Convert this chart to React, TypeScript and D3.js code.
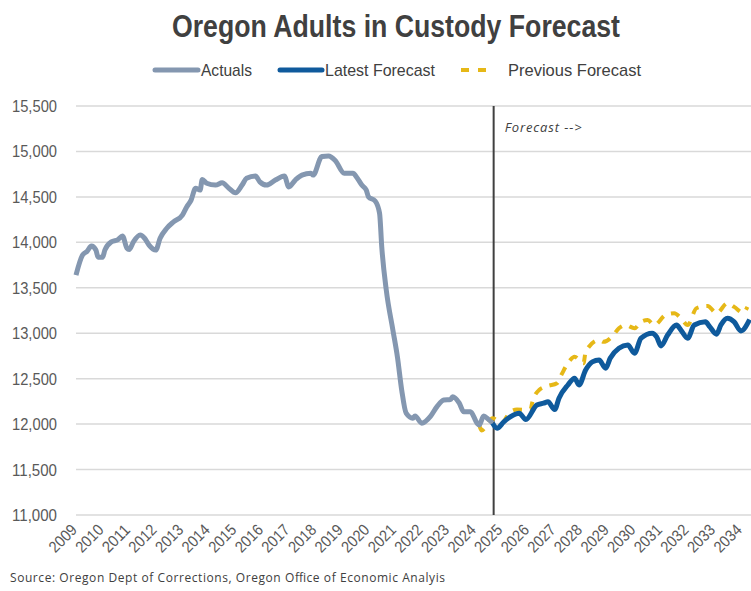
import React from 'react';
import * as d3 from 'd3';

// actuals (monthly readings)
const actualDates = [
  '2009-01', '2009-04', '2009-06', '2009-08', '2009-10', '2009-11', '2010-01', '2010-02', '2010-05', '2010-08',
  '2010-10', '2010-12', '2011-01', '2011-03', '2011-06', '2011-08', '2011-10', '2012-01', '2012-03', '2012-06',
  '2012-09', '2013-01', '2013-03', '2013-05', '2013-07', '2013-09', '2013-10', '2013-12', '2014-04', '2014-07',
  '2014-10', '2015-01', '2015-04', '2015-06', '2015-10', '2015-12', '2016-03', '2016-07', '2016-11', '2017-01',
  '2017-04', '2017-07', '2017-11', '2017-12', '2018-04', '2018-07', '2018-10', '2019-02', '2019-06', '2019-08',
  '2019-10', '2019-12', '2020-01', '2020-04', '2020-06', '2020-07', '2020-09', '2020-12', '2021-02', '2021-04',
  '2021-06', '2021-09', '2021-10', '2022-01', '2022-05', '2022-08', '2022-11', '2023-02', '2023-03', '2023-06',
  '2023-08', '2023-11', '2024-02', '2024-03', '2024-05', '2024-07', '2024-09',
];
const actualValues = [
  13640, 13860, 13900, 13960, 13915, 13835, 13835, 13915, 14005, 14030,
  14070, 13935, 13920, 14005, 14080, 14045, 13970, 13915, 14045, 14155,
  14225, 14300, 14390, 14465, 14595, 14575, 14690, 14650, 14630, 14655,
  14595, 14545, 14630, 14705, 14730, 14665, 14630, 14685, 14730, 14610,
  14685, 14740, 14760, 14740, 14945, 14950, 14900, 14760, 14760, 14705,
  14630, 14575, 14500, 14455, 14320, 13950, 13475, 13035, 12740, 12375,
  12120, 12065, 12090, 12010, 12085, 12195, 12265, 12270, 12300, 12230,
  12135, 12135, 12010, 11990, 12090, 12055, 12010,
];

const latestDates = [
  '2024-09', '2024-11', '2025-02', '2025-05', '2025-09', '2025-12', '2026-05', '2026-08', '2026-10', '2027-01',
  '2027-03', '2027-07', '2027-10', '2027-12', '2028-03', '2028-06', '2028-09', '2028-12', '2029-02', '2029-06',
  '2029-10', '2030-01', '2030-04', '2030-09', '2030-11', '2031-01', '2031-04', '2031-08', '2031-10', '2032-01',
  '2032-04', '2032-09', '2032-11', '2033-02', '2033-04', '2033-07', '2033-10', '2034-01', '2034-05',
];
const latestValues = [
  12010, 11955, 12025, 12080, 12120, 12050, 12210, 12230, 12245, 12160,
  12285, 12430, 12505, 12430, 12595, 12685, 12705, 12615, 12725, 12835,
  12870, 12780, 12945, 13000, 12960, 12860, 12980, 13090, 13035, 12945,
  13090, 13125, 13070, 12990, 13090, 13165, 13125, 13025, 13150,
];

const previousDates = [
  '2024-03', '2024-04', '2024-09', '2025-01', '2025-05', '2025-08', '2026-02', '2026-03', '2026-06', '2026-10',
  '2027-02', '2027-04', '2027-08', '2027-10', '2028-02', '2028-03', '2028-09', '2028-11', '2029-03', '2029-06',
  '2029-09', '2030-01', '2030-04', '2030-07', '2030-10', '2031-03', '2031-07', '2031-10', '2032-01', '2032-05',
  '2032-10', '2033-02', '2033-07', '2033-10', '2034-02', '2034-04',
];
const previousValues = [
  11990, 11930, 12065, 12010, 12135, 12160, 12155, 12245, 12375, 12420,
  12450, 12540, 12705, 12740, 12670, 12795, 12925, 12905, 12965, 13055,
  13090, 13055, 13125, 13145, 13090, 13200, 13220, 13165, 13090, 13275,
  13300, 13220, 13330, 13290, 13225, 13290,
];

const yTicks = [11000, 11500, 12000, 12500, 13000, 13500, 14000, 14500, 15000, 15500];
const years = d3.range(2009, 2035);
const forecastStart = '2024-09';

const W = 751;
const H = 591;
const left = 76;
const right = 751;
const top = 106;
const bottom = 515;

const parse = d3.timeParse('%Y-%m');
const narrow = "'Liberation Sans Narrow', 'Arial Narrow', 'Liberation Sans', sans-serif";
const squeeze = 'spacingAndGlyphs';

const App = () => {
  const x = d3.scaleTime()
    .domain([new Date(2009, 0, 1), new Date(2034, 4, 20)])
    .range([left, right]);
  const y = d3.scaleLinear().domain([11000, 15500]).range([bottom, top]);

  const line = d3.line<[Date, number]>()
    .x(d => x(d[0]))
    .y(d => y(d[1]))
    .curve(d3.curveMonotoneX);

  const series = (dates: string[], values: number[]) =>
    dates.map((d, i) => [parse(d) as Date, values[i]] as [Date, number]);

  const fx = x(parse(forecastStart) as Date) + 1;

  return (
    <div style={{ position: 'absolute', left: 0, top: 0 }}>
      <svg width={W} height={H} style={{ display: 'block', background: '#fff' }}>
        <text x={172} y={37} fontFamily={narrow} fontWeight="bold" fontSize={31} fill="#404040"
          textLength={448} lengthAdjust={squeeze}>
          Oregon Adults in Custody Forecast
        </text>

        {/* legend */}
        <g fontFamily={narrow} fontSize={17} fill="#404040">
          <line x1={155} x2={198} y1={70} y2={70} stroke="#8497b0" strokeWidth={5} strokeLinecap="round" />
          <text x={201} y={76} textLength={51} lengthAdjust={squeeze}>Actuals</text>
          <line x1={280} x2={322} y1={70} y2={70} stroke="#0f5a9c" strokeWidth={5} strokeLinecap="round" />
          <text x={325} y={76} textLength={110} lengthAdjust={squeeze}>Latest Forecast</text>
          <line x1={461} x2={490} y1={70} y2={70} stroke="#e6b817" strokeWidth={4} strokeDasharray="8,9" />
          <text x={508} y={76} textLength={133} lengthAdjust={squeeze}>Previous Forecast</text>
        </g>

        {/* gridlines + y labels */}
        {yTicks.map(t => (
          <g key={t}>
            <line x1={left} x2={right} y1={y(t)} y2={y(t)} stroke="#d9d9d9" strokeWidth={1.5} />
            <text x={57} y={y(t)} dy="0.35em" textAnchor="end" fontFamily={narrow} fontSize={17} fill="#595959"
              textLength={45} lengthAdjust={squeeze}>
              {d3.format(',')(t)}
            </text>
          </g>
        ))}

        {/* x labels */}
        {years.map(yr => {
          const px = x(new Date(yr, 0, 1));
          return (
            <text
              key={yr}
              transform={`translate(${px - 2},${527}) rotate(-45)`}
              textAnchor="end"
              dy="0.35em"
              fontFamily={narrow}
              fontSize={16}
              fill="#595959"
              textLength={32}
              lengthAdjust={squeeze}
            >
              {yr}
            </text>
          );
        })}

        <line x1={fx} x2={fx} y1={top} y2={bottom} stroke="#404040" strokeWidth={2} />
        <text x={fx + 11} y={132} fontFamily="'Open Sans', sans-serif" fontStyle="italic" fontSize={13} fill="#404040"
          textLength={77}>
          Forecast --&gt;
        </text>

        <path d={line(series(previousDates, previousValues)) ?? ''} fill="none" stroke="#e6b817" strokeWidth={4} strokeDasharray="9,8" />
        <path d={line(series(actualDates, actualValues)) ?? ''} fill="none" stroke="#8497b0" strokeWidth={5} strokeLinejoin="round" />
        <path d={line(series(latestDates, latestValues)) ?? ''} fill="none" stroke="#0f5a9c" strokeWidth={5} strokeLinejoin="round" />

        <text x={10} y={582} fontFamily="'Open Sans', sans-serif" fontSize={12} fill="#404040" textLength={435}>
          Source: Oregon Dept of Corrections, Oregon Office of Economic Analyis
        </text>
      </svg>
    </div>
  );
};

export default App;
